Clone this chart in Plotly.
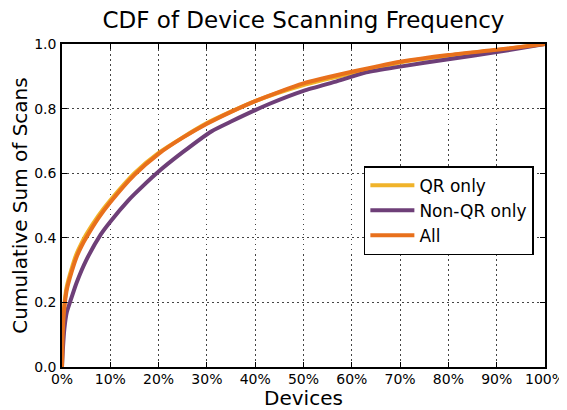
import plotly.graph_objects as go

# Data
all_x = [0, 0.1, 0.3, 0.6, 1, 2, 3, 4, 5, 7.5, 10, 15, 20, 25, 30, 35, 40, 45, 50, 55, 60, 65, 70, 80, 90, 100]
all_y = [0, 0.08, 0.15, 0.2, 0.24, 0.295, 0.34, 0.373, 0.40, 0.46, 0.51, 0.595, 0.66, 0.71, 0.753, 0.79,
         0.823, 0.852, 0.878, 0.897, 0.914, 0.93, 0.945, 0.966, 0.982, 1.0]

qr_x = [0, 0.1, 0.3, 0.6, 1, 2, 3, 4, 5, 7.5, 10, 15, 20, 30, 40, 50, 60, 70, 80, 90, 100]
qr_y = [0, 0.09, 0.16, 0.21, 0.25, 0.305, 0.35, 0.382, 0.41, 0.468, 0.516, 0.60, 0.663, 0.755, 0.823,
        0.873, 0.909, 0.943, 0.964, 0.981, 1.0]

nonqr_x = [0, 0.2, 0.5, 1, 1.65, 3, 5, 8, 10, 13.7, 15, 19.6, 25, 31, 35, 43, 50, 57, 63, 70, 80, 90, 100]
nonqr_y = [0, 0.06, 0.12, 0.17, 0.2, 0.26, 0.33, 0.41, 0.45, 0.515, 0.535, 0.60, 0.665, 0.73, 0.76,
           0.815, 0.855, 0.885, 0.912, 0.93, 0.953, 0.975, 1.0]

x_tick_vals = [0, 10, 20, 30, 40, 50, 60, 70, 80, 90, 100]
x_tick_text = ["0%", "10%", "20%", "30%", "40%", "50%", "60%", "70%", "80%", "90%", "100%"]
y_tick_vals = [0.0, 0.2, 0.4, 0.6, 0.8, 1.0]

FONT = "DejaVu Sans"

fig = go.Figure()
fig.add_trace(go.Scatter(x=qr_x, y=qr_y, mode="lines", name="QR only", legendgroup="a",
                         line=dict(color="#f0b32a", width=4, shape="spline", smoothing=0.6)))
fig.add_trace(go.Scatter(x=nonqr_x, y=nonqr_y, mode="lines", name="Non-QR only", legendgroup="b",
                         line=dict(color="#6e3f78", width=4, shape="spline", smoothing=0.6)))
fig.add_trace(go.Scatter(x=all_x, y=all_y, mode="lines", name="All", legendgroup="c",
                         line=dict(color="#e8701c", width=4, shape="spline", smoothing=0.6)))

axis_common = dict(
    showline=True, linecolor="black", linewidth=1.5, mirror="allticks",
    ticks="inside", ticklen=5, tickcolor="black", tickwidth=1,
    showgrid=True, gridcolor="#444444", griddash="1.5px,3.5px", gridwidth=1,
    zeroline=False, tickfont=dict(family=FONT, size=14, color="black"),
    automargin=False,
)

fig.update_xaxes(range=[0, 100], tickvals=x_tick_vals, ticktext=x_tick_text,
                 ticklabelstandoff=-2,
                 title=dict(text="Devices", font=dict(family=FONT, size=20, color="black"), standoff=7),
                 **axis_common)
fig.update_yaxes(range=[0, 1], tickvals=y_tick_vals, tickformat=".1f",
                 ticklabelstandoff=1,
                 title=dict(text="Cumulative Sum of Scans", font=dict(family=FONT, size=20, color="black"), standoff=2),
                 **axis_common)

# the page body adds an 8px offset, so the figure is 8px smaller and margins shifted
fig.update_layout(
    width=559, height=402,
    margin=dict(l=54, r=22, t=36, b=43),
    paper_bgcolor="white", plot_bgcolor="white",
    title=dict(text="CDF of Device Scanning Frequency", x=0.5, xanchor="center", xref="paper",
               y=0.970, yanchor="middle", font=dict(family=FONT, size=23, color="black")),
    showlegend=True,
    legend=dict(x=0.625, y=0.622, xanchor="left", yanchor="top",
                bgcolor="white", bordercolor="black", borderwidth=1.5,
                traceorder="grouped", tracegroupgap=0,
                font=dict(family=FONT, size=17, color="black"), itemwidth=44),
    font=dict(family=FONT),
)

fig.write_html("out.html")
